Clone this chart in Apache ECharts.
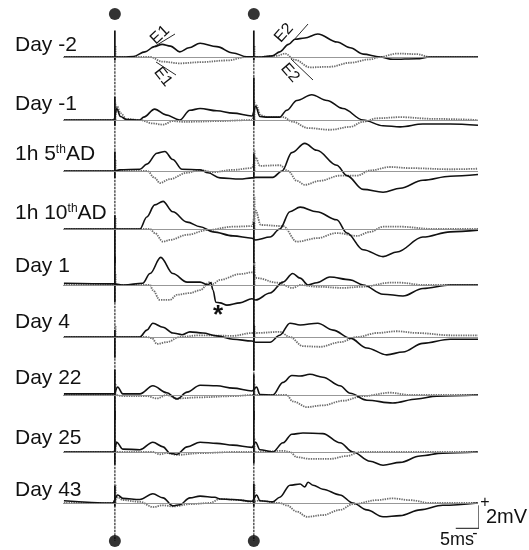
<!DOCTYPE html>
<html><head><meta charset="utf-8">
<script src="https://cdn.jsdelivr.net/npm/echarts/dist/echarts.min.js"></script>
<style>html,body{margin:0;padding:0;background:#fff}#c{width:529px;height:550px}</style>
</head><body><div id="c"></div>
<script>
// ---------- DATA (time in ms after 1st stimulus, voltage in mV) ----------
const stimTimes = [0, 30];
const rowLabels = ['Day -2', 'Day -1', '1h 5{sup|th}AD', '1h 10{sup|th}AD', 'Day 1', 'Day 4', 'Day 22', 'Day 25', 'Day 43'];

const dayM2Solid = [[-11,0],[-0.2,0],[2,0],[4,0.05],[6.5,0.45],[8.5,0.9],[10.2,1.1],[12,0.95],[14,0.45],[16,0.8],[18.4,1.2],[22,0.9],[25.5,0.35],[28.5,0.02],[31,0],[34,0.1],[35.6,0.45],[37.5,1.1],[38.9,1.55],[41,1.65],[43.8,2.0],[48,1.3],[50.8,0.8],[53.6,0.25],[57.2,0],[60,-0.2],[65.2,-0.15],[68,0],[78.4,0]];
const dayM2Dotted = [[-11,0],[-0.2,0],[7.6,0],[10.2,-0.4],[14,-0.55],[18.4,-0.45],[24.2,-0.3],[28.5,0],[31,0],[35,0.1],[36.7,0.3],[38.9,-0.25],[42.1,-0.9],[46.4,-0.85],[50.8,-0.5],[55.1,-0.2],[57.2,0],[60.9,0.3],[65.2,0.25],[68,0],[78.4,0]];

const dayM1Solid = [[-11,0],[-0.2,0],[0.4,1.0],[1.2,0.3],[2.5,0.05],[5.4,0],[6.2,0.25],[8.6,0.95],[11,0.45],[14,0],[16.2,0.85],[18.4,1.0],[22,0.8],[25.5,0.6],[29.6,0.35],[30.4,1.2],[31.3,0.3],[33,0.25],[35.6,0.25],[37.1,0.85],[39.3,1.7],[42.5,2.2],[45.8,1.7],[49.2,1.0],[53.6,0],[57.9,-0.5],[61.6,-0.6],[66.5,-0.35],[72.4,-0.35],[78.4,-0.45]];
const dayM1Dotted = [[-11,0],[-0.2,0],[0.5,1.2],[1.2,0.6],[2.5,0.1],[5.4,0],[8.2,-0.3],[10.4,-0.4],[12.5,-0.1],[14.5,-0.15],[16.8,-0.15],[22,-0.1],[29.6,0],[30.5,1.3],[31.5,0.4],[33,0.25],[36.3,0.25],[38.4,-0.15],[41.7,-0.7],[46.4,-0.85],[50.8,-0.6],[53.6,-0.15],[56.6,0.15],[61.6,0.25],[68.7,0.1],[78.4,0]];

const ad5Solid = [[-11,0],[-0.2,0],[1,0.1],[5.4,0.15],[6.9,0.6],[9.1,1.55],[10.8,1.7],[12.5,1.0],[14.5,0.15],[18.4,0.1],[20.1,-0.15],[22.7,-0.6],[27,-0.7],[29.6,-0.6],[30.4,-0.55],[34.1,-0.55],[36.1,0],[38.2,1.6],[41,2.4],[43.6,1.8],[47.9,0.5],[50.1,-0.4],[53.6,-1.6],[57.9,-1.85],[61.6,-1.5],[66.5,-0.8],[72.4,-0.45],[78.4,-0.3]];
const ad5Dotted = [[-11,0],[-0.2,0],[7,0],[8.6,-0.6],[9.7,-1.05],[11.9,-0.7],[15.6,-0.15],[18.4,0.1],[21.2,-0.1],[25.5,0.1],[29.6,0.25],[30.4,1.2],[31.3,0.45],[35.6,0.5],[37.4,0],[39.3,-0.85],[41,-1.2],[44.3,-0.85],[48.6,-0.4],[52.3,-0.4],[55.1,0.05],[59.4,0.35],[63.7,0.25],[72.4,0.15],[78.4,0.2]];

const ad10Solid = [[-11,0],[-0.2,0],[5.4,0],[6.9,1.05],[8.6,2.1],[10.4,2.4],[12.5,1.5],[15.6,0.6],[18.4,0.2],[21.2,-0.25],[25.5,-0.6],[29.6,-0.8],[30.4,-0.95],[33.5,-0.7],[35.6,0],[37.8,1.5],[40,1.9],[43.6,1.5],[47.9,0.8],[50.1,-0.35],[53.6,-1.8],[57.9,-2.4],[60.9,-2.0],[66.5,-0.7],[72.4,-0.25],[78.4,-0.1]];
const ad10Dotted = [[-11,0],[-0.2,0],[7.6,0],[8.6,-0.35],[10.4,-1.1],[11.9,-0.95],[15.6,-0.5],[19.9,-0.1],[25.5,0.2],[29.6,0.25],[30.4,1.6],[31.5,0.35],[36.3,0.25],[39.3,-1.1],[43.6,-0.8],[47.9,-0.35],[52.3,-0.6],[55.1,-0.25],[57.9,0.2],[61.6,0.2],[68.7,0],[78.4,0]];

const day1Solid = [[-11,0.15],[-0.2,0.1],[2,0],[6,0.15],[7.6,1.0],[9.9,2.4],[12.5,1.0],[15.6,0.25],[18.4,0.25],[20.1,0],[20.7,0.2],[21.2,-0.45],[21.8,-1.5],[22.7,-1.55],[24.2,-1.75],[27,-1.55],[29.6,-1.2],[30.4,-1.3],[33.5,-0.7],[36.3,0.25],[38.4,1.0],[40,0.6],[41.7,0],[43.6,0.2],[46.4,0.7],[50.8,0.45],[53.6,0],[57.9,-0.8],[62.2,-0.95],[66.5,-0.3],[72.4,0],[78.4,0]];
const day1Dotted = [[-11,0],[-0.2,0],[7.6,0],[8.2,-0.45],[9.7,-1.3],[11.9,-1.3],[13.4,-0.85],[16.2,-0.7],[18.4,-0.45],[20.5,0.25],[21.2,0.1],[22.7,0.45],[27,0.95],[29.6,1.1],[30.7,0.6],[35,0.2],[38.4,-0.25],[40,0],[43.6,-0.15],[49.2,-0.25],[53.6,-0.15],[59.4,0.2],[61.6,0.2],[66.5,0],[78.4,0]];

const day4Solid = [[-11,0],[-0.2,0],[2,0],[5.4,0],[6.9,0.6],[8.2,1.2],[10.4,0.85],[12.5,0.35],[14.5,0.2],[16.2,0.45],[19,0.35],[22,0.1],[25.5,-0.2],[29.6,-0.35],[30.4,-0.45],[33.5,-0.45],[35.6,0.15],[37.8,1.2],[40,1.05],[43.8,1.2],[47.1,0.6],[50.8,-0.1],[54.4,-0.95],[58.7,-1.55],[62.2,-1.3],[66.5,-0.55],[72.4,-0.2],[78.4,-0.2]];
const day4Dotted = [[-11,0],[-0.2,0],[7,0],[8,-0.1],[9.1,-0.6],[11.2,-0.45],[14,0],[18.4,0.15],[25.5,0.1],[29.6,0.35],[30.7,0.35],[35.6,0.45],[37.8,0],[40.6,-0.8],[44.3,-0.85],[48.6,-0.45],[52.3,0],[56.6,0.35],[60.9,0.5],[65.2,0.35],[72.4,0.15],[78.4,0.15]];

const day22Solid = [[-11,0.1],[-0.2,0.1],[0.6,0.7],[1.7,0.1],[5.4,0.1],[8.2,0.8],[11.2,0.2],[13.4,-0.35],[15.6,0.25],[18.4,0.85],[22,0.8],[25.5,0.6],[29.6,0.35],[30.6,0.7],[31.3,0.05],[34.1,0],[36.3,1.1],[38.2,1.7],[40,1.65],[42.1,1.8],[44.9,1.55],[48.6,0.8],[50.8,0.15],[54.4,-0.45],[60,-0.7],[65.2,-0.35],[69.5,-0.1],[78.4,0]];
const day22Dotted = [[-11,0],[-0.2,0],[2,-0.1],[6.9,-0.1],[9.1,-0.3],[11.2,0],[13.4,-0.3],[18.4,-0.2],[25.5,-0.1],[29.6,0],[31,0],[37.1,0],[38.4,-0.55],[41.5,-1.05],[44.9,-0.9],[49.2,-0.5],[53.6,-0.1],[59.4,0.2],[63.7,0],[78.4,0]];

const day25Solid = [[-11,0],[-0.2,0],[0.4,0.85],[1.7,0.25],[5.4,0.2],[8.2,0.85],[10.4,0.45],[11.9,-0.1],[13.4,-0.2],[15.6,0.45],[18.4,0.85],[22,0.75],[25.5,0.6],[29.6,0.4],[30.4,0.85],[31.3,0.2],[34.1,0],[36.3,0.8],[38.2,1.55],[40.6,1.65],[44.9,1.6],[48.6,0.8],[51.4,0],[55.1,-0.8],[57.9,-1.15],[61.6,-0.9],[65.9,-0.35],[70.8,-0.1],[78.4,0]];
const day25Dotted = [[-11,0],[-0.2,0],[8.2,0],[9.7,-0.2],[11.2,-0.1],[13.4,-0.25],[18.4,-0.1],[25.5,0],[29.6,0],[31,0],[36.3,0.1],[37.8,0],[39.3,-0.45],[42.1,-0.6],[46.4,-0.6],[50.1,-0.35],[52.9,0],[57.9,0],[78.4,0]];

const day43Solid = [[-11,0.2],[-0.5,0],[0.6,0.7],[1.7,0.4],[5.4,0.3],[8.2,0.8],[10.4,0.45],[12.5,-0.25],[14,-0.15],[16.2,0.45],[18.4,0.6],[21.6,0.5],[22.7,0.35],[25.5,0.3],[29.6,0.15],[30.6,0.7],[31.3,0.2],[34.1,0.1],[35.6,0.5],[37.8,1.55],[40,1.65],[41,1.4],[41.7,1.8],[42.8,1.55],[44.9,1.2],[48.6,0.7],[51.4,0],[54.4,-0.6],[57.9,-1.2],[61.6,-1.1],[65.9,-0.6],[70.8,-0.2],[78.4,0]];
const day43Dotted = [[-11,0],[-0.5,0],[0.6,0.5],[1.7,0.25],[5.4,0.1],[8.2,-0.35],[10.4,-0.2],[12.5,-0.3],[16.2,-0.1],[20.5,0],[22.7,0.35],[27,0.25],[29.6,0.1],[31,0.2],[35.6,0],[37.1,-0.2],[39.3,-0.75],[41.5,-1.2],[44.9,-1.05],[48.6,-0.6],[51.4,-0.1],[56.6,0.25],[60,0.4],[63.7,0.25],[68,0],[78.4,0]];

// stimulus artifacts (mV): solid [up1, down1, up2, down2], dotted [up1, up2]
const artifactSolid = [[2.3,-0.3,2.3,-0.3],[2.0,-0.5,3.7,-0.5],[1.7,-0.6,1.5,-0.6],[1.2,-3.0,0.6,-3.0],[2.5,-1.5,1.7,-5.0],[0.6,-1.8,1.0,-2.9],[2.2,-2.2,1.8,-2.2],[3.6,-1.1,3.6,-1.0],[1.5,-0.3,1.7,-0.3]];
const artifactDotted = [[1.0,1.0],[1.5,1.7],[1.0,1.8],[1.0,2.8],[1.0,2.0],[1.0,1.0],[1.0,1.0],[1.0,1.2],[1.6,1.6]];

const scaleBarMs = 5, scaleBarMv = 2;

const solidTraces = [dayM2Solid, dayM1Solid, ad5Solid, ad10Solid, day1Solid, day4Solid, day22Solid, day25Solid, day43Solid];
const dottedTraces = [dayM2Dotted, dayM1Dotted, ad5Dotted, ad10Dotted, day1Dotted, day4Dotted, day22Dotted, day25Dotted, day43Dotted];

// ---------- LAYOUT ----------
const X_MIN = -11.2, X_MAX = 78.4, Y_MIN = -3, Y_MAX = 3;
const PX_PER_MV = 11.5;
const rowBase = [57, 120, 171, 229, 285, 337, 395, 452, 503];
const labelLift = [12, 16, 17, 16, 19, 15, 17, 14, 13];
const gridH = (Y_MAX - Y_MIN) * PX_PER_MV;
const PLOT_LEFT = 63, PLOT_W = 415;

const grids = [], xAxes = [], yAxes = [], series = [];
rowBase.forEach((b, i) => {
  grids.push({left: PLOT_LEFT, width: PLOT_W, top: b - gridH / 2, height: gridH});
  xAxes.push({type: 'value', gridIndex: i, min: X_MIN, max: X_MAX, show: false});
  yAxes.push({type: 'value', gridIndex: i, min: Y_MIN, max: Y_MAX, show: false});
});
// overlay grid for stimulus markers
const OV = rowBase.length;
grids.push({left: PLOT_LEFT, width: PLOT_W, top: 14, height: 527});
xAxes.push({type: 'value', gridIndex: OV, min: X_MIN, max: X_MAX, show: false});
yAxes.push({type: 'value', gridIndex: OV, min: 0, max: 1, inverse: true, show: false});

stimTimes.forEach(s => {
  series.push({type: 'line', xAxisIndex: OV, yAxisIndex: OV, data: [[s, 0.082], [s, 1]], showSymbol: false, silent: true,
    lineStyle: {color: '#3a3a3a', width: 1.3, type: [2.5, 1]}, z: 1});
});
series.push({type: 'scatter', xAxisIndex: OV, yAxisIndex: OV, symbol: 'circle', symbolSize: 12, silent: true,
  itemStyle: {color: '#000'}, data: stimTimes.flatMap(s => [[s, 0], [s, 1]]), z: 10});

rowBase.forEach((b, i) => {
  series.push({type: 'line', xAxisIndex: i, yAxisIndex: i, data: dottedTraces[i], smooth: 0.35, smoothMonotone: 'x',
    showSymbol: false, silent: true, z: 2,
    lineStyle: {color: '#6e6e6e', width: 1.8, type: [1.4, 1]},
    markLine: {silent: true, symbol: 'none', label: {show: false}, animation: false,
      lineStyle: {color: '#8c8c8c', width: 0.9, type: 'solid'}, data: [{yAxis: 0}]}});
  series.push({type: 'line', xAxisIndex: i, yAxisIndex: i, data: solidTraces[i], smooth: 0.35, smoothMonotone: 'x',
    showSymbol: false, silent: true, z: 3, lineStyle: {color: '#111', width: 1.6}});
  stimTimes.forEach((s, k) => {
    const a = artifactSolid[i];
    series.push({type: 'line', xAxisIndex: i, yAxisIndex: i, data: [[s, a[k * 2]], [s, a[k * 2 + 1]]], clip: false,
      showSymbol: false, silent: true, z: 4, lineStyle: {color: '#111', width: 1.7}});
    series.push({type: 'line', xAxisIndex: i, yAxisIndex: i, data: [[s + 0.15, 0], [s + 0.15, artifactDotted[i][k]]], clip: false,
      showSymbol: false, silent: true, z: 2, lineStyle: {color: '#6e6e6e', width: 1.8, type: [1.4, 1]}});
  });
});

// scale bar in last row's coordinates
const last = rowBase.length - 1;
const sbX = X_MAX + 0.2, sbY = -2.2;
series.push({type: 'line', xAxisIndex: last, yAxisIndex: last, clip: false, showSymbol: false, silent: true,
  data: [[sbX - scaleBarMs, sbY], [sbX, sbY], [sbX, sbY + scaleBarMv]], lineStyle: {color: '#111', width: 1}});

// ---------- TEXT ----------
const FONT = 'Liberation Sans, Arial, sans-serif';
const graphics = rowBase.map((b, i) => ({
  type: 'text', x: 15, y: b - labelLift[i], silent: true,
  style: {text: rowLabels[i], fontSize: 21, fontFamily: FONT, fill: '#111', verticalAlign: 'middle', textVerticalAlign: 'middle',
    rich: {sup: {fontSize: 12, fontFamily: FONT, fill: '#111', verticalAlign: 'top', lineHeight: 21}}}
}));
const ann = (t, x, y, rot) => ({type: 'text', x, y, rotation: rot, silent: true,
  style: {text: t, fontSize: 16, fontFamily: FONT, fill: '#111', align: 'center', verticalAlign: 'middle', textAlign: 'center', textVerticalAlign: 'middle'}});
const seg = (x1, y1, x2, y2) => ({type: 'line', silent: true, shape: {x1, y1, x2, y2}, style: {stroke: '#111', lineWidth: 0.9}});
graphics.push(
  ann('E1', 160, 35, 0.75), seg(152, 48, 175, 34),
  ann('E1', 163, 77, -0.9), seg(156, 62, 176, 75),
  ann('E2', 284, 33, 0.85), seg(293, 41, 308, 24),
  ann('E2', 290, 73, -0.85), seg(291, 59, 313, 80),
  {type: 'text', x: 218, y: 316, silent: true, style: {text: '*', fontSize: 26, fontWeight: 'bold', fontFamily: FONT, fill: '#111', align: 'center', verticalAlign: 'middle', textAlign: 'center', textVerticalAlign: 'middle'}},
  {type: 'text', x: 485, y: 503, silent: true, style: {text: '+', fontSize: 16, fontFamily: FONT, fill: '#111', align: 'center', verticalAlign: 'middle', textAlign: 'center', textVerticalAlign: 'middle'}},
  {type: 'text', x: 486, y: 517, silent: true, style: {text: '2mV', fontSize: 20, fontFamily: FONT, fill: '#111', verticalAlign: 'middle', textVerticalAlign: 'middle'}},
  {type: 'text', x: 440, y: 540, silent: true, style: {text: '5ms', fontSize: 18, fontFamily: FONT, fill: '#111', verticalAlign: 'middle', textVerticalAlign: 'middle'}},
  {type: 'text', x: 475, y: 534, silent: true, style: {text: '-', fontSize: 16, fontFamily: FONT, fill: '#111', align: 'center', verticalAlign: 'middle', textAlign: 'center', textVerticalAlign: 'middle'}}
);

const chart = echarts.init(document.getElementById('c'), null, {renderer: 'canvas'});
chart.setOption({animation: false, backgroundColor: '#fff', grid: grids, xAxis: xAxes, yAxis: yAxes, series, graphic: graphics});
</script></body></html>
